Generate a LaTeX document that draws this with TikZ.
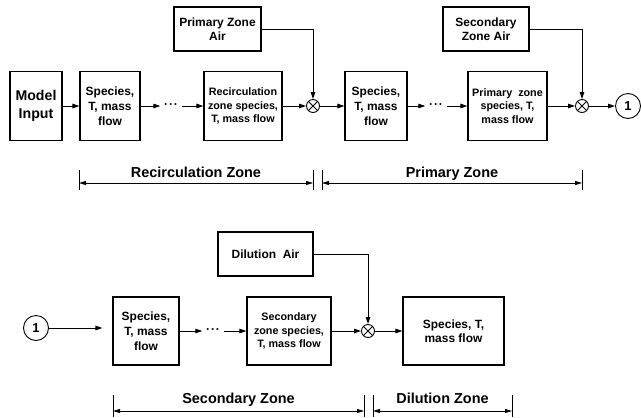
\documentclass[tikz,border=0pt]{standalone}
\usepackage{fontspec}
\setmainfont{Liberation Sans}
\usetikzlibrary{arrows.meta}
\tikzset{
  blk/.style={draw, line width=1.1bp, align=center, inner sep=1bp,
    font=\bfseries\fontsize{12}{15}\selectfont},
  smallblk/.style={blk, font=\bfseries\fontsize{10.8}{13.5}\selectfont},
  airblk/.style={blk, minimum height=44bp, font=\bfseries\fontsize{12}{14}\selectfont},
  flow/.style={-{Triangle[length=7bp,width=4.5bp]}, line width=1bp},
  mixer/.style={circle, draw, line width=0.9bp, minimum size=13bp, inner sep=0pt,
    path picture={\draw[line width=0.9bp]
      (path picture bounding box.north west) -- (path picture bounding box.south east)
      (path picture bounding box.north east) -- (path picture bounding box.south west);}},
  link/.style={circle, draw, line width=0.9bp, minimum size=25bp, inner sep=0pt,
    font=\bfseries\fontsize{13}{15}\selectfont},
  dotsnode/.style={inner sep=3.5bp, font=\bfseries\fontsize{12}{14}\selectfont},
  zone/.style={font=\bfseries\fontsize{14.5}{17}\selectfont, anchor=base},
  span/.style={{Triangle[length=7bp,width=4bp]}-{Triangle[length=7bp,width=4bp]}, line width=0.8bp},
  tick/.style={line width=0.9bp}
}
\begin{document}
\begin{tikzpicture}[x=1bp,y=-1bp]
  \useasboundingbox (0,0) rectangle (641,417);
  % first row
  \node[blk, minimum width=52bp, minimum height=69bp,
    font=\bfseries\fontsize{14.2}{18}\selectfont] (input) at (36,106) {Model\\Input};
  \node[blk, minimum width=60bp, minimum height=69bp] (sp1) at (110,106) {Species,\\T, mass\\flow};
  \node[dotsnode] (dots1) at (171,106) {·\kern1bp·\kern1bp·};
  \node[smallblk, minimum width=78bp, minimum height=69bp] (rec) at (243,106)
    {Recirculation\\zone species,\\T, mass flow};
  \node[mixer] (mix1) at (313,106) {};
  \node[airblk, minimum width=87bp] (pza) at (217.5,29) {Primary Zone\\Air};
  \node[blk, minimum width=62bp, minimum height=69bp] (sp2) at (376,106) {Species,\\T, mass\\flow};
  \node[dotsnode] (dots2) at (436,106) {·\kern1bp·\kern1bp·};
  \node[smallblk, minimum width=79bp, minimum height=69bp] (pri) at (507.5,106)
    {Primary\ \ zone\\species, T,\\mass flow};
  \node[mixer] (mix2) at (582,106) {};
  \node[airblk, minimum width=86bp] (sza) at (486,29) {Secondary\\Zone Air};
  \node[link] (c1) at (628,106) {1};
  % second row
  \node[link] (c1b) at (36,328) {1};
  \node[blk, minimum width=66bp, minimum height=68bp] (sp3) at (146,331) {Species,\\T, mass\\flow};
  \node[dotsnode] (dots3) at (213,331) {·\kern1bp·\kern1bp·};
  \node[smallblk, minimum width=84bp, minimum height=68bp] (sec) at (289,331)
    {Secondary\\zone species,\\T, mass flow};
  \node[mixer] (mix3) at (368,331) {};
  \node[blk, minimum width=101bp, minimum height=68bp,
    font=\bfseries\fontsize{12}{14}\selectfont] (dil) at (453.5,331) {Species, T,\\mass flow};
  \node[airblk, minimum width=95bp] (dla) at (265.5,254) {Dilution\ \ Air};
  % connectors
  \draw[flow] (input) -- (sp1);
  \draw[flow] (sp1) -- (dots1);
  \draw[flow] (dots1) -- (rec);
  \draw[flow] (rec) -- (mix1);
  \draw[flow] (pza) -| (mix1);
  \draw[flow] (mix1) -- (sp2);
  \draw[flow] (sp2) -- (dots2);
  \draw[flow] (dots2) -- (pri);
  \draw[flow] (pri) -- (mix2);
  \draw[flow] (sza) -| (mix2);
  \draw[flow] (mix2) -- (c1);
  \draw[flow, shorten >=10bp] (c1b) -- (c1b -| sp3.west);
  \draw[flow] (sp3) -- (dots3);
  \draw[flow] (dots3) -- (sec);
  \draw[flow] (sec) -- (mix3);
  \draw[flow] (dla) -| (mix3);
  \draw[flow] (mix3) -- (dil);
  % zones
  \coordinate (rzA) at (79,183);
  \coordinate (rzB) at (313,183);
  \coordinate (pzA) at (322,183);
  \coordinate (pzB) at (582,183);
  \coordinate (szA) at (113,411);
  \coordinate (szB) at (364,411);
  \coordinate (dzA) at (373,411);
  \coordinate (dzB) at (512,411);
  \draw[tick] (79,170) -- (79,190) (313,170) -- (313,190)
    (322,170) -- (322,190) (582,170) -- (582,190);
  \draw[tick] (113,395) -- (113,417) (364,395) -- (364,417)
    (373,395) -- (373,417) (512,395) -- (512,417);
  \draw[span] (rzA) -- (rzB) node[midway, zone, yshift=6bp] {Recirculation Zone};
  \draw[span] (pzA) -- (pzB) node[midway, zone, yshift=6bp] {Primary Zone};
  \draw[span] (szA) -- (szB) node[midway, zone, yshift=8bp] {Secondary Zone};
  \draw[span] (dzA) -- (dzB) node[midway, zone, yshift=8bp] {Dilution Zone};
\end{tikzpicture}
\end{document}
